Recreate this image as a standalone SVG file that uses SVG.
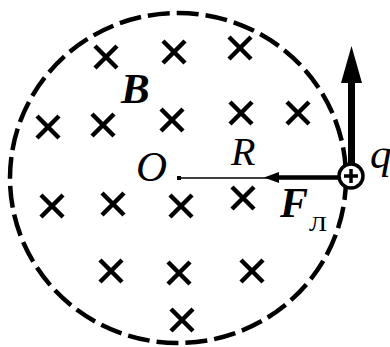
<svg xmlns="http://www.w3.org/2000/svg" width="390" height="347" viewBox="0 0 390 347">
<style>
.x{stroke:#000;stroke-width:4.5;fill:none}
.t{font-family:"Liberation Serif","Times New Roman",serif;font-style:italic;fill:#000}
.b{font-weight:bold}
</style>
<defs>
<path id="cr" d="M-11,-11L11,11M11,-11L-11,11" class="x"/>
</defs>
<rect width="390" height="347" fill="#fff"/>
<g id="field-region">
<ellipse cx="178" cy="178" rx="168" ry="165" fill="none" stroke="#000" stroke-width="4.5" stroke-dasharray="22 7"/>
</g>
<g id="field-B">
<use href="#cr" x="106" y="57"/>
<use href="#cr" x="174" y="52"/>
<use href="#cr" x="240" y="48"/>
<use href="#cr" x="48" y="127"/>
<use href="#cr" x="103" y="125"/>
<use href="#cr" x="172" y="120"/>
<use href="#cr" x="241" y="113"/>
<use href="#cr" x="298" y="113"/>
<use href="#cr" x="52" y="206"/>
<use href="#cr" x="113" y="204"/>
<use href="#cr" x="181" y="206"/>
<use href="#cr" x="243" y="198"/>
<use href="#cr" x="111" y="271"/>
<use href="#cr" x="179" y="273"/>
<use href="#cr" x="252" y="271"/>
<use href="#cr" x="182" y="320"/>
<text class="t b" x="121" y="103" font-size="43">B</text>
</g>
<g id="center-O">
<rect x="177" y="176" width="4" height="4" fill="#000"/>
<text class="t" x="136" y="181" font-size="43">O</text>
</g>
<g id="connectors">
<line x1="179" y1="178" x2="268" y2="178" stroke="#000" stroke-width="1.5"/>
<text class="t" x="231" y="165" font-size="40">R</text>
<line x1="338" y1="177.5" x2="276" y2="177.5" stroke="#000" stroke-width="4.5"/>
<polygon points="264,177.5 279,172 279,183" fill="#000"/>
<line x1="351.5" y1="163" x2="351.5" y2="80" stroke="#000" stroke-width="7"/>
<polygon points="351.5,46 341,83 362,83" fill="#000"/>
</g>
<g id="charge-q">
<circle cx="351" cy="176" r="12" fill="#fff" stroke="#000" stroke-width="3.5"/>
<path d="M344,176H358M351,169V183" stroke="#000" stroke-width="3.5"/>
<text class="t" x="370" y="168" font-size="43">q</text>
</g>
<g id="force-label">
<text class="t b" x="280" y="217" font-size="42">F</text>
<text x="309" y="231" font-size="20" font-family="Liberation Serif,serif" textLength="18" lengthAdjust="spacingAndGlyphs">Л</text>
</g>
</svg>
